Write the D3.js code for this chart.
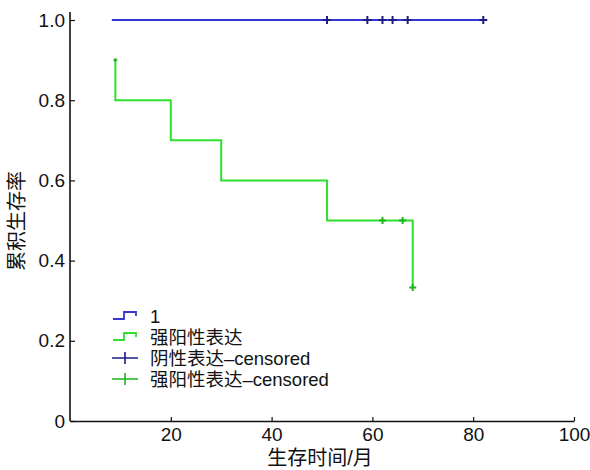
<!DOCTYPE html>
<html><head><meta charset="utf-8">
<script src="https://cdn.jsdelivr.net/npm/d3@7"></script>
<style>body{margin:0;background:#fff}svg{display:block}</style>
</head><body>
<svg id="c" width="590" height="470"></svg>
<script>
const xTicks = [20, 40, 60, 80, 100];
const yTicks = [0, 0.2, 0.4, 0.6, 0.8, 1.0];
const yTickLabels = ["0", "0.2", "0.4", "0.6", "0.8", "1.0"];
const negTimes = [8.3, 82];
const negSurv = [1.0, 1.0];
const negCensored = [51, 59, 62, 64, 67, 82];
const posTimes = [9, 9, 20, 30, 51, 68];
const posSurv = [0.9, 0.8, 0.7, 0.6, 0.5, 0.333];
const posCensoredT = [62, 66, 68];
const posCensoredS = [0.5, 0.5, 0.333];
const legendLabels = ["1", "强阳性表达", "阴性表达–censored", "强阳性表达–censored"];
const xLabel = "生存时间/月";
const yLabel = "累积生存率";

const blue = "#3636d2", blueDark = "#1c1c88", green = "#2ee02e", greenDark = "#1eb41e";
const svg = d3.select("#c");
const x = d3.scaleLinear().domain([0, 100]).range([70, 574]);
const y = d3.scaleLinear().domain([0, 1]).range([421, 20]);
const font = "'Liberation Sans', Arial, sans-serif";
const mixed = "'Liberation Sans', 'Noto Sans CJK SC', sans-serif";

// axes
const xa = svg.append("g").attr("transform", "translate(0,421)")
  .call(d3.axisBottom(x).tickValues(xTicks).tickSizeInner(-4).tickSizeOuter(0).tickPadding(6));
const ya = svg.append("g").attr("transform", "translate(70,0)")
  .call(d3.axisLeft(y).tickValues(yTicks).tickFormat((d, i) => yTickLabels[i]).tickSizeInner(-5).tickSizeOuter(0).tickPadding(5));
[xa, ya].forEach(a => {
  a.select(".domain").attr("stroke", "#111").attr("stroke-width", 1.6);
  a.selectAll(".tick line").attr("stroke", "#111").attr("stroke-width", 1.2);
  a.selectAll("text").attr("font-family", font).attr("font-size", 19).attr("fill", "#111");
});
ya.select(".domain").attr("d", "M0,421V12");
xa.selectAll(".tick text").attr("dy", "0.72em");

// curves
const line = d3.line().x(d => x(d[0])).y(d => y(d[1])).curve(d3.curveStepAfter);
svg.append("path").datum(negTimes.map((t, i) => [t, negSurv[i]]))
  .attr("d", line).attr("fill", "none").attr("stroke", blue).attr("stroke-width", 2);
svg.append("path").datum(posTimes.map((t, i) => [t, posSurv[i]]))
  .attr("d", line).attr("fill", "none").attr("stroke", green).attr("stroke-width", 2);

function plus(g, cx, cy, s, col, w) {
  g.append("path").attr("d", `M${cx - s},${cy}H${cx + s}M${cx},${cy - s}V${cy + s}`)
    .attr("stroke", col).attr("stroke-width", w).attr("fill", "none");
}
const mk = svg.append("g");
negCensored.forEach(t => plus(mk, x(t), y(1.0), 4, blueDark, 2));
posCensoredT.forEach((t, i) => plus(mk, x(t), y(posCensoredS[i]), 3.5, greenDark, 2));
plus(mk, x(posTimes[0]), y(posSurv[0]), 2, greenDark, 1.5);

// legend
const lg = svg.append("g");
const rows = [316, 337, 358, 379];
const cols = [blue, green, blueDark, greenDark];
rows.forEach((ry, i) => {
  if (i < 2) {
    lg.append("path").attr("d", `M113,${ry + 3}H124V${ry - 4}H136V${ry}`)
      .attr("fill", "none").attr("stroke", cols[i]).attr("stroke-width", 1.8);
  } else {
    lg.append("path").attr("d", `M112,${ry}H138M125,${ry - 6}V${ry + 6}`)
      .attr("stroke", cols[i]).attr("stroke-width", 1.6);
  }
  lg.append("text").attr("x", 150).attr("y", ry + 7)
    .attr("font-family", mixed).attr("font-size", 18.5).attr("fill", "#111")
    .text(legendLabels[i]);
});

// axis labels
svg.append("text").attr("x", 320).attr("y", 465).attr("text-anchor", "middle")
  .attr("font-family", mixed).attr("font-size", 20).attr("fill", "#111").text(xLabel);
svg.append("text").attr("transform", "translate(24,221) rotate(-90)").attr("text-anchor", "middle")
  .attr("font-family", mixed).attr("font-size", 20).attr("fill", "#111").text(yLabel);
</script>
</body></html>
